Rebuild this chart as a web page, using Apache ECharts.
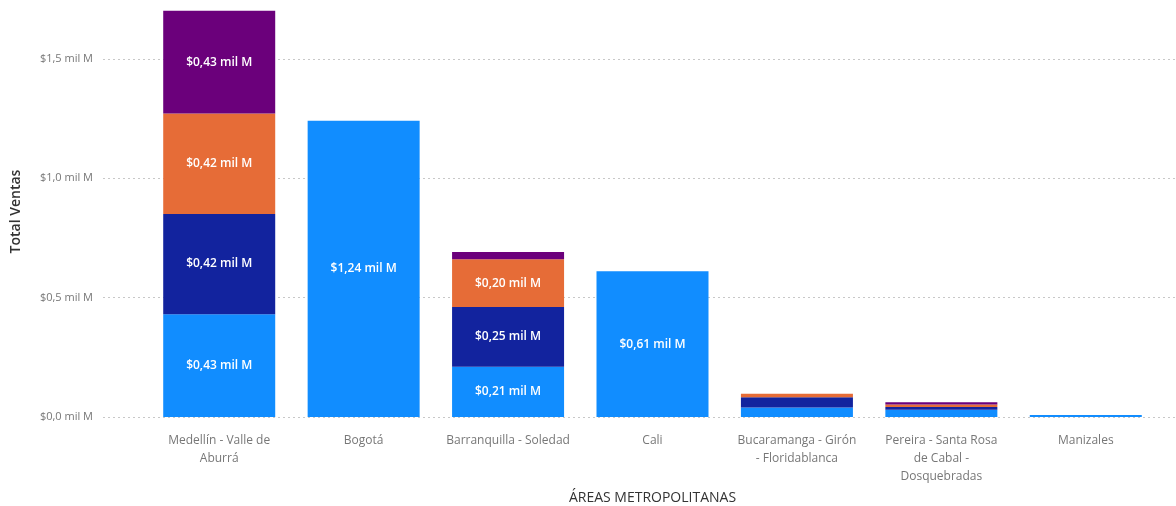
<!DOCTYPE html>
<html>
<head>
<meta charset="utf-8">
<script src="https://cdn.jsdelivr.net/npm/echarts@6/dist/echarts.min.js"></script>
<style>
  html, body { margin: 0; padding: 0; background: #fff; }
  #chart { width: 1176px; height: 506px; }
</style>
</head>
<body>
<div id="chart"></div>
<script>
// áreas metropolitanas (eje X)
const areas = [
  "Medellín - Valle de\nAburrá",
  "Bogotá",
  "Barranquilla - Soledad",
  "Cali",
  "Bucaramanga - Girón\n- Floridablanca",
  "Pereira - Santa Rosa\nde Cabal -\nDosquebradas",
  "Manizales"
];

// ventas en mil M, por segmento apilado
const ventasAzul = [0.43, 1.24, 0.21, 0.61, 0.04, 0.03, 0.008];
const ventasAzulOscuro = [0.42, null, 0.25, null, 0.043, 0.012, null];
const ventasNaranja = [0.42, null, 0.20, null, 0.014, 0.01, null];
const ventasPurpura = [0.43, null, 0.03, null, null, 0.01, null];

const yTicks = [0, 0.5, 1.0, 1.5];

const fuente = "'Open Sans', 'DejaVu Sans', sans-serif";

function fmtMil(v) {
  return "$" + v.toFixed(2).replace(".", ",") + " mil M";
}

function serie(name, data, color) {
  return {
    name: name,
    type: "bar",
    stack: "total",
    xAxisIndex: 0,
    yAxisIndex: 0,
    barWidth: 112,
    data: data,
    itemStyle: { color: color },
    label: {
      show: true,
      position: "inside",
      color: "#fff",
      fontSize: 12,
      fontWeight: 600,
      fontFamily: fuente,
      formatter: p => (p.value >= 0.1 ? fmtMil(p.value) : "")
    }
  };
}

const chart = echarts.init(document.getElementById("chart"));

chart.setOption({
  animation: false,
  textStyle: { fontFamily: fuente },
  grid: [
    // barras
    { left: 147, right: 18, top: 6, bottom: 89, outerBoundsMode: "none", containLabel: false },
    // fondo: líneas punteadas y etiquetas del eje Y
    { left: 103, right: 0, top: 59, bottom: 89, outerBoundsMode: "none", containLabel: false }
  ],
  xAxis: [
    {
      type: "category",
      gridIndex: 0,
      data: areas,
      axisLine: { show: false },
      axisTick: { show: false },
      axisLabel: {
        color: "#777",
        fontSize: 12,
        lineHeight: 18,
        margin: 15,
        interval: 0,
        fontFamily: fuente
      },
      name: "ÁREAS METROPOLITANAS",
      nameLocation: "middle",
      nameGap: 71,
      nameTextStyle: { color: "#333", fontSize: 14, fontFamily: fuente }
    },
    {
      type: "value",
      gridIndex: 1,
      min: 0,
      max: 1,
      show: false
    }
  ],
  yAxis: [
    {
      type: "value",
      gridIndex: 0,
      min: 0,
      max: 1.72,
      axisLabel: { show: false },
      axisLine: { show: false },
      axisTick: { show: false },
      splitLine: { show: false },
      name: "Total Ventas",
      nameLocation: "middle",
      nameGap: 124,
      nameRotate: 90,
      nameTextStyle: { color: "#333", fontSize: 14, fontWeight: 600, fontFamily: fuente }
    },
    {
      type: "value",
      gridIndex: 1,
      min: yTicks[0],
      max: yTicks[yTicks.length - 1],
      interval: 0.5,
      axisLine: { show: false },
      axisTick: { show: false },
      axisLabel: {
        color: "#777",
        fontSize: 11,
        margin: 10,
        fontFamily: fuente,
        formatter: v => "$" + v.toFixed(1).replace(".", ",") + " mil M"
      },
      splitLine: {
        show: true,
        lineStyle: { color: "#c8c8c8", type: [2, 3], width: 1 }
      }
    }
  ],
  series: [
    serie("Segmento 1", ventasAzul, "#118DFF"),
    serie("Segmento 2", ventasAzulOscuro, "#12239E"),
    serie("Segmento 3", ventasNaranja, "#E66C37"),
    serie("Segmento 4", ventasPurpura, "#6B007B")
  ]
});
</script>
</body>
</html>
